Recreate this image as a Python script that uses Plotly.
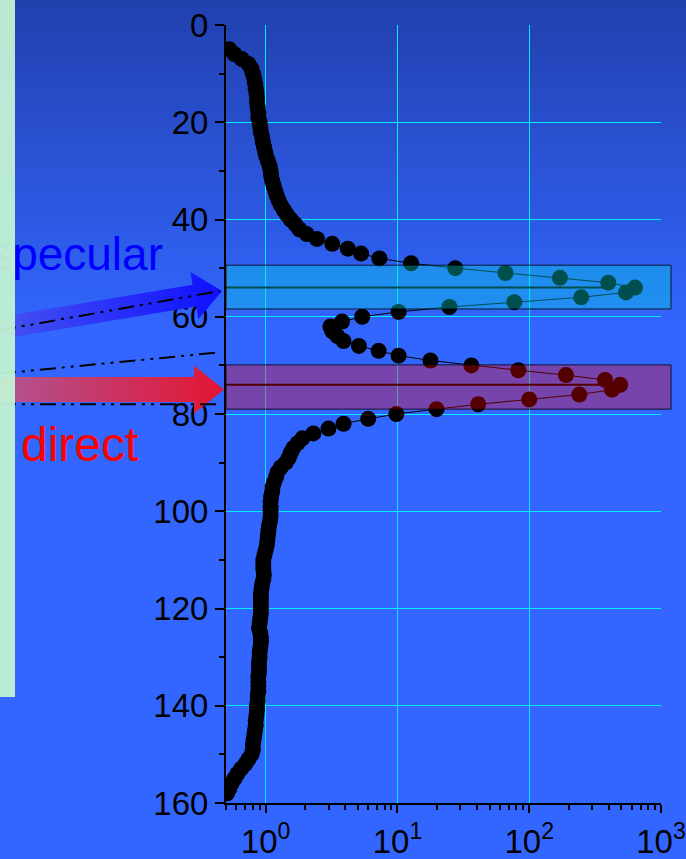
import numpy as np
import plotly.graph_objects as go

W, H = 686, 859

# ---------------- data ----------------
depth = [5, 6, 7, 8, 9, 10, 11, 12, 13, 14, 15, 16, 17, 18, 19, 20, 21, 22, 23, 24,
         25, 26, 27, 28, 29, 30, 31, 32, 33, 34, 35, 36, 37, 38, 39, 40, 41, 42, 43, 44,
         45, 46, 47, 48, 49, 50, 51, 52, 53, 54, 55, 56, 57, 58, 59, 60, 61, 62, 63, 64,
         65, 66, 67, 68, 69, 70, 71, 72, 73, 74, 75, 76, 77, 78, 79, 80, 81, 82, 83, 84,
         85, 86, 87, 88, 89, 90, 91, 92, 93, 94, 95, 96, 97, 98, 99, 100, 101, 102, 103, 104,
         105, 106, 107, 108, 109, 110, 111, 112, 113, 114, 115, 116, 117, 118, 119, 120, 121, 122, 123, 124,
         125, 126, 127, 128, 129, 130, 131, 132, 133, 134, 135, 136, 137, 138, 139, 140, 141, 142, 143, 144,
         145, 146, 147, 148, 149, 150, 151, 152, 153, 154, 155, 156, 157, 158]

intensity = [0.53, 0.58, 0.66, 0.74, 0.78, 0.80, 0.82, 0.83, 0.84, 0.85, 0.86, 0.86, 0.87, 0.88, 0.88, 0.90, 0.91, 0.92, 0.94, 0.95,
             0.97, 0.99, 1.01, 1.04, 1.07, 1.09, 1.10, 1.12, 1.15, 1.18, 1.21, 1.25, 1.30, 1.37, 1.45, 1.55, 1.68, 1.80, 2.05, 2.45,
             3.2, 4.2, 5.3, 7.3, 12.7, 27.5, 66, 171, 398, 635, 542, 248, 77, 24.8, 10.2, 5.4, 3.8, 3.1, 3.2, 3.5,
             3.9, 5.1, 7.2, 10.2, 17.8, 36.4, 82.7, 190, 376, 490, 425, 240, 100, 41, 19.8, 9.8, 6.0, 3.9, 3.0, 2.3,
             1.9, 1.75, 1.62, 1.55, 1.50, 1.42, 1.30, 1.23, 1.20, 1.16, 1.13, 1.12, 1.10, 1.09, 1.09, 1.09, 1.09, 1.08, 1.06, 1.05,
             1.04, 1.03, 1.02, 1.00, 0.98, 0.96, 0.96, 0.96, 0.97, 0.96, 0.94, 0.93, 0.92, 0.92, 0.92, 0.92, 0.92, 0.91, 0.90, 0.89,
             0.91, 0.92, 0.92, 0.91, 0.90, 0.90, 0.89, 0.89, 0.89, 0.88, 0.88, 0.88, 0.88, 0.87, 0.87, 0.86, 0.86, 0.85, 0.84, 0.84,
             0.83, 0.82, 0.81, 0.80, 0.80, 0.78, 0.74, 0.70, 0.65, 0.61, 0.58, 0.55, 0.53, 0.51]

y_tickvals = [0, 20, 40, 60, 80, 100, 120, 140, 160]
x_tickvals = [1, 10, 100, 1000]
x_ticktext = ["10<sup>0</sup>", "10<sup>1</sup>", "10<sup>2</sup>", "10<sup>3</sup>"]
x_minor_vals = [0.5, 0.6, 0.7, 0.8, 0.9, 2, 3, 4, 5, 6, 7, 8, 9,
                20, 30, 40, 50, 60, 70, 80, 90, 200, 300, 400, 500, 600, 700, 800, 900]

band_lo = [49.4, 69.9]
band_hi = [58.4, 79.0]
band_center = [54, 74]
band_center_end = [410, 395]
band_fill = ["rgba(0,225,225,0.35)", "rgba(255,0,0,0.33)"]

labels = ["specular", "direct"]

# ---------------- layout geometry ----------------
FONT = "Liberation Sans, Arial, sans-serif"
xd = [226 / W, 661 / W]
yd = [56 / H, 834 / H]


def y_paper(v):
    return yd[1] - v / 160 * (yd[1] - yd[0])


fig = go.Figure()

# main data
fig.add_trace(go.Scatter(
    x=intensity, y=depth, mode="lines+markers",
    line=dict(color="black", width=1),
    marker=dict(color="black", size=16, line=dict(width=0)),
    xaxis="x", yaxis="y", showlegend=False, hoverinfo="skip"))

# center lines of the bands (under the translucent bands)
for c, e in zip(band_center, band_center_end):
    fig.add_trace(go.Scatter(
        x=[0.5, e], y=[c, c], mode="lines",
        line=dict(color="black", width=2),
        xaxis="x", yaxis="y", showlegend=False, hoverinfo="skip"))


# ---------------- decorations on a full-page overlay axis ----------------
def arrow_poly(tail, tip, body_hw, head_hw, head_len):
    t = np.array(tail, float)
    p = np.array(tip, float)
    d = p - t
    L = np.hypot(*d)
    u = d / L
    n = np.array([-u[1], u[0]])
    b = t + (L - head_len) * u
    pts = [t + body_hw * n, b + body_hw * n, b + head_hw * n, p,
           b - head_hw * n, b - body_hw * n, t - body_hw * n, t + body_hw * n]
    return [q[0] for q in pts], [q[1] for q in pts]


ax_, ay_ = arrow_poly((-2, 328.5), (222, 291), 11, 24, 28)
fig.add_trace(go.Scatter(
    x=ax_, y=ay_, mode="lines", fill="toself", line=dict(width=0),
    fillgradient=dict(type="horizontal",
                      colorscale=[[0, "rgb(70,85,240)"], [1, "rgb(15,15,255)"]]),
    xaxis="x2", yaxis="y2", showlegend=False, hoverinfo="skip"))

rx_, ry_ = arrow_poly((-2, 389.5), (224, 389.5), 12.5, 24, 30)
fig.add_trace(go.Scatter(
    x=rx_, y=ry_, mode="lines", fill="toself", line=dict(width=0),
    fillgradient=dict(type="horizontal",
                      colorscale=[[0, "rgb(175,85,150)"], [1, "rgb(228,20,50)"]]),
    xaxis="x2", yaxis="y2", showlegend=False, hoverinfo="skip"))

dashpat = "16px,6px,3px,6px,3px,6px"
for (x0, y0, x1, y1) in [(0, 330.2, 220, 291), (0, 373.6, 217, 352.6), (0, 404.3, 217, 404.3)]:
    fig.add_trace(go.Scatter(
        x=[x0, x1], y=[y0, y1], mode="lines",
        line=dict(color="black", width=2, dash=dashpat),
        xaxis="x2", yaxis="y2", showlegend=False, hoverinfo="skip"))

fig.add_trace(go.Scatter(
    x=[163], y=[258.5], mode="text", text=[labels[0]], textposition="middle left",
    textfont=dict(family=FONT, size=46, color="#0000ff"), cliponaxis=False,
    xaxis="x2", yaxis="y2", showlegend=False, hoverinfo="skip"))
fig.add_trace(go.Scatter(
    x=[21], y=[448.5], mode="text", text=[labels[1]], textposition="middle right",
    textfont=dict(family=FONT, size=48, color="#ff0000"), cliponaxis=False,
    xaxis="x2", yaxis="y2", showlegend=False, hoverinfo="skip"))

# ---------------- shapes ----------------
shapes = []
# vertical background gradient
c_top = np.array([33, 64, 173])
c_bot = np.array([51, 102, 255])
step = 10
for i in range(34):
    py0 = i * step
    t = min(1.0, (py0 + step / 2) / 330)
    c = c_top + (c_bot - c_top) * t
    shapes.append(dict(type="rect", xref="paper", yref="paper",
                       x0=0, x1=1, y0=1 - (py0 + step + 0.5) / H, y1=1 - py0 / H,
                       fillcolor="rgb(%d,%d,%d)" % tuple(c.round().astype(int)),
                       line=dict(width=0), layer="below"))

# translucent bands
for lo, hi, fc in zip(band_lo, band_hi, band_fill):
    shapes.append(dict(type="rect", xref="paper", yref="paper",
                       x0=226 / W, x1=671 / W, y0=y_paper(hi), y1=y_paper(lo),
                       fillcolor=fc, line=dict(color="rgba(0,0,0,0.8)", width=1),
                       layer="above"))

# light green strip on the left
shapes.append(dict(type="rect", xref="paper", yref="paper",
                   x0=0, x1=15 / W, y0=1 - 697 / H, y1=1,
                   fillcolor="#c2f2d4", opacity=0.95, line=dict(width=0), layer="above"))

fig.update_layout(
    width=W, height=H,
    autosize=False,
    margin=dict(l=0, r=0, t=0, b=0, pad=0),
    paper_bgcolor="#3366ff",
    plot_bgcolor="rgba(0,0,0,0)",
    showlegend=False,
    font=dict(family=FONT, size=33, color="black"),
    shapes=shapes,
    xaxis=dict(
        type="log", domain=xd, range=[np.log10(0.5), 3], anchor="y",
        tickmode="array", tickvals=x_tickvals, ticktext=x_ticktext,
        ticks="outside", ticklen=8, tickwidth=2, tickcolor="black",
        showline=True, linecolor="black", linewidth=2,
        showgrid=True, gridcolor="#00eeff", gridwidth=1, zeroline=False,
        minor=dict(tickmode="array", tickvals=x_minor_vals, ticks="outside",
                   ticklen=5, tickwidth=2, tickcolor="black", showgrid=False),
        tickfont=dict(family=FONT, size=33, color="black"),
        automargin=False, fixedrange=True),
    yaxis=dict(
        domain=yd, range=[160, 0], anchor="x",
        tickmode="array", tickvals=y_tickvals,
        ticks="outside", ticklen=9, tickwidth=2, tickcolor="black",
        showline=True, linecolor="black", linewidth=2,
        showgrid=True, gridcolor="#00eeff", gridwidth=1, zeroline=False,
        minor=dict(dtick=10, ticks="outside", ticklen=5, tickwidth=2,
                   tickcolor="black", showgrid=False),
        tickfont=dict(family=FONT, size=33, color="black"),
        automargin=False, fixedrange=True),
    xaxis2=dict(domain=[0, 1], range=[0, W], visible=False, anchor="y2", fixedrange=True),
    yaxis2=dict(domain=[0, 1], range=[H, 0], visible=False, anchor="x2", fixedrange=True),
)

post = ("document.body.style.margin='0';document.body.style.padding='0';"
        "document.body.style.overflow='hidden';"
        "var gd=document.getElementById('{plot_id}');"
        "gd.style.position='absolute';gd.style.left='0px';gd.style.top='0px';")

fig.write_html("out.html", post_script=post, config={"displayModeBar": False})
